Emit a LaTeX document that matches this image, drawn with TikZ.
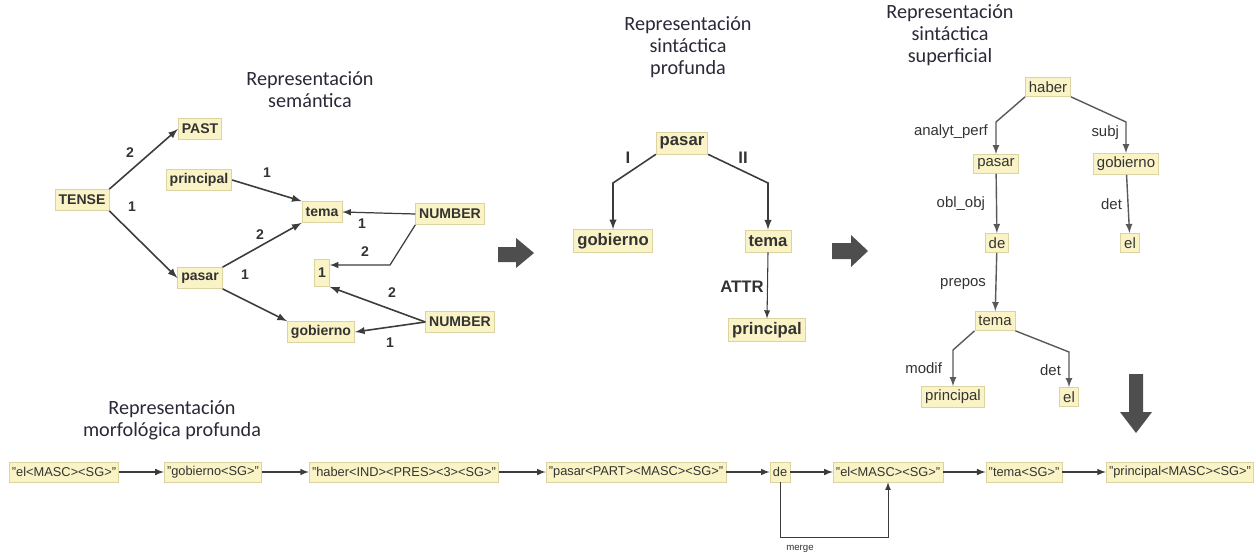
\documentclass[tikz,border=0pt]{standalone}
\usepackage{fontspec}
\setsansfont{Liberation Sans}
\newfontfamily\titlefont{Carlito}
\usetikzlibrary{calc}
\tikzset{>=latex}

\definecolor{boxfill}{HTML}{FAF3C6}
\definecolor{boxline}{HTML}{DCD3A2}
\definecolor{textcol}{HTML}{333333}
\definecolor{edgecol}{HTML}{3C3C3C}
\definecolor{titlecol}{HTML}{2B2838}
\definecolor{blockcol}{HTML}{4E4E4E}

\tikzset{
  box/.style={draw=boxline, fill=boxfill, text=textcol, inner sep=2pt},
  semnode/.style={box, font=\sffamily\bfseries\fontsize{8}{9}\selectfont, minimum height=0.42cm},
  deepnode/.style={box, font=\sffamily\bfseries\fontsize{9.5}{10}\selectfont, minimum height=0.44cm},
  surfnode/.style={box, font=\sffamily\fontsize{8.5}{9}\selectfont, minimum height=0.38cm},
  morphnode/.style={box, font=\sffamily\fontsize{7.3}{8}\selectfont, minimum height=0.4cm, inner xsep=1.6pt},
  reptitle/.style={align=center, text=titlecol, font=\titlefont\fontsize{11.5}{12.5}\selectfont},
  semlabel/.style={text=textcol, font=\sffamily\bfseries\fontsize{8}{9}\selectfont, inner sep=1pt},
  deeplabel/.style={text=textcol, font=\sffamily\bfseries\fontsize{9.5}{10}\selectfont, inner sep=1pt},
  surflabel/.style={text=textcol, font=\sffamily\fontsize{8.5}{9}\selectfont, inner sep=1pt, anchor=east},
  semedge/.style={->, draw=edgecol, line width=0.9pt},
  deepedge/.style={->, draw=edgecol, line width=0.9pt},
  surfedge/.style={->, draw=edgecol!85, line width=0.8pt},
  morphedge/.style={->, draw=edgecol, line width=0.7pt},
  blockarrow/.style={fill=blockcol, draw=none}
}

\begin{document}
\begin{tikzpicture}[x=0.02cm, y=-0.02cm]
    \useasboundingbox (0,0) rectangle (1256,557);

    % titulos
    \node[reptitle] (semtitle) at (310,90) {Representación\\semántica};
    \node[reptitle] (deeptitle) at (688,47) {Representación\\sintáctica\\profunda};
    \node[reptitle] (surftitle) at (950,35) {Representación\\sintáctica\\superficial};
    \node[reptitle] (morphtitle) at (172,420) {Representación\\morfológica profunda};

    % representacion semantica
    \node[semnode] at (82,200) (tense) {TENSE};
    \node[semnode] at (200,129) (past) {PAST};
    \node[semnode] at (199,180) (principal) {principal};
    \node[semnode] at (322,212) (tema) {tema};
    \node[semnode] at (450,214) (number1) {NUMBER};
    \node[semnode, minimum height=0.54cm] at (322,273) (one) {1};
    \node[semnode] at (200,278) (pasar) {pasar};
    \node[semnode] at (321,332) (gobierno) {gobierno};
    \node[semnode] at (460,322) (number2) {NUMBER};

    \coordinate (numbend) at (390,265);

    \draw[semedge] (tense.north east) -- (past.west);
    \draw[semedge] (tense.south east) -- (pasar.west);
    \draw[semedge] (principal.east) -- (tema.north west);
    \draw[semedge] (pasar.north east) -- (tema.south west);
    \draw[semedge] (pasar.south east) -- (gobierno.north west);
    \draw[semedge, line width=0.7pt] (number1.west) -- (tema.east);
    \draw[semedge, line width=0.7pt] (number1.south west) -- (numbend) -- (numbend -| one.east);
    \draw[semedge] (number2.west) -- (one.south east);
    \draw[semedge] (number2.west) -- (gobierno.east);

    \node[semlabel] at (130,153) (l-past) {2};
    \node[semlabel] at (132,207) (l-pasar) {1};
    \node[semlabel] at (267,173) (l-principal) {1};
    \node[semlabel] at (260,235) (l-tema) {2};
    \node[semlabel] at (245,275) (l-gobierno) {1};
    \node[semlabel] at (362,224) (l-num1a) {1};
    \node[semlabel] at (365,252) (l-num1b) {2};
    \node[semlabel] at (392,293) (l-num2a) {2};
    \node[semlabel] at (390,343) (l-num2b) {1};

    % representacion sintactica profunda
    \node[deepnode] at (682,143) (dp-pasar) {pasar};
    \node[deepnode] at (613,241) (dp-gobierno) {gobierno};
    \node[deepnode] at (768,241) (dp-tema) {tema};
    \node[deepnode] at (767,330) (dp-principal) {principal};

    \draw[deepedge] (dp-pasar.south west) -- (dp-gobierno.north |- 0,183) -- (dp-gobierno.north);
    \draw[deepedge] (dp-pasar.south east) -- (dp-tema.north |- 0,183) -- (dp-tema.north);
    \draw[deepedge, line width=0.6pt] (dp-tema.south) -- (dp-principal.north);

    \node[deeplabel] at (628,158) (l-i) {I};
    \node[deeplabel] at (743,158) (l-ii) {II};
    \node[deeplabel] at (742,287) (l-attr) {ATTR};

    % representacion sintactica superficial
    \node[surfnode] at (1048,87) (s-haber) {haber};
    \node[surfnode] at (996,164) (s-pasar) {pasar};
    \node[surfnode] at (1126,164) (s-gobierno) {gobierno};
    \node[surfnode] at (997,243) (s-de) {de};
    \node[surfnode] at (1130,243) (s-el1) {el};
    \node[surfnode] at (995,321) (s-tema) {tema};
    \node[surfnode] at (953,397) (s-principal) {principal};
    \node[surfnode] at (1069,397) (s-el2) {el};

    \draw[surfedge] (s-haber.south west) -- (s-pasar.north |- 0,122) -- (s-pasar.north);
    \draw[surfedge] (s-haber.south east) -- (s-gobierno.north |- 0,122) -- (s-gobierno.north);
    \draw[surfedge] (s-pasar) -- (s-de);
    \draw[surfedge] (s-gobierno) -- (s-el1);
    \draw[surfedge] (s-de) -- (s-tema);
    \draw[surfedge] (s-tema.south west) -- (s-principal.north |- 0,350) -- (s-principal.north);
    \draw[surfedge] (s-tema.south east) -- (s-el2.north |- 0,352) -- (s-el2.north);

    \node[surflabel] at (990,132) (l-analyt) {analyt\_perf};
    \node[surflabel] at (1121,133) (l-subj) {subj};
    \node[surflabel] at (987,204) (l-oblobj) {obl\_obj};
    \node[surflabel] at (1124,204) (l-det1) {det};
    \node[surflabel] at (988,284) (l-prepos) {prepos};
    \node[surflabel] at (944,368) (l-modif) {modif};
    \node[surflabel] at (1063,370) (l-det2) {det};

    % representacion morfologica profunda
    \node[morphnode] at (64,472) (m-el1) {"el<MASC><SG>"};
    \node[morphnode] at (213,472) (m-gobierno) {"gobierno<SG>"};
    \node[morphnode] at (404,472) (m-haber) {"haber<IND><PRES><3><SG>"};
    \node[morphnode] at (636,472) (m-pasar) {"pasar<PART><MASC><SG>"};
    \node[morphnode] at (780,472) (m-de) {de};
    \node[morphnode] at (888,472) (m-el2) {"el<MASC><SG>"};
    \node[morphnode] at (1024,472) (m-tema) {"tema<SG>"};
    \node[morphnode] at (1180,472) (m-principal) {"principal<MASC><SG>"};

    \draw[morphedge] (m-el1) -- (m-gobierno);
    \draw[morphedge] (m-gobierno) -- (m-haber);
    \draw[morphedge] (m-haber) -- (m-pasar);
    \draw[morphedge] (m-pasar) -- (m-de);
    \draw[morphedge] (m-de) -- (m-el2);
    \draw[morphedge] (m-el2) -- (m-tema);
    \draw[morphedge] (m-tema) -- (m-principal);

    \coordinate (mergeline) at (0,537);
    \draw[morphedge, line width=0.5pt] (m-de.south) -- (m-de.south |- mergeline) -- (m-el2.south |- mergeline) -- (m-el2.south);
    \node[text=textcol, font=\sffamily\fontsize{5.5}{6}\selectfont] at (800,549) (l-merge) {merge};

    % flechas grandes
    \fill[blockarrow] (498,247) -- (516,247) -- (516,238) -- (534,253) -- (516,268) -- (516,262) -- (498,262) -- cycle;
    \fill[blockarrow] (832,243) -- (851,243) -- (851,235) -- (868,251) -- (851,267) -- (851,259) -- (832,259) -- cycle;
    \fill[blockarrow] (1129,374) -- (1143,374) -- (1143,412) -- (1152,412) -- (1136,433) -- (1120,412) -- (1129,412) -- cycle;

\end{tikzpicture}
\end{document}
